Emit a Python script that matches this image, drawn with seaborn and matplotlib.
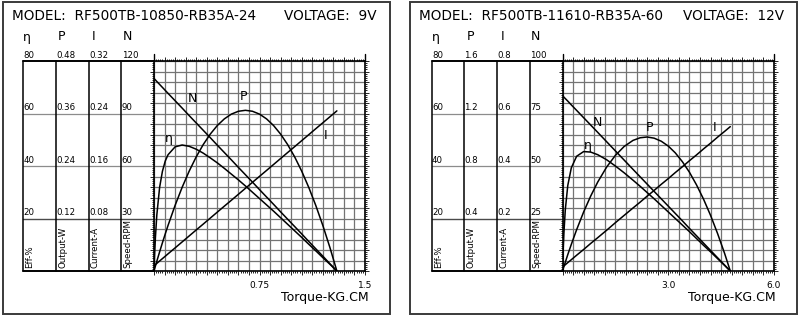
import numpy as np
import pandas as pd
import matplotlib
matplotlib.use("Agg")
import matplotlib.pyplot as plt
import seaborn as sns
from matplotlib.patches import Rectangle
from matplotlib.ticker import MultipleLocator

# ---------------- data ----------------
model_9v = "RF500TB-10850-RB35A-24"
voltage_9v = "9V"
torque_9v = [0, 0.005, 0.01, 0.02, 0.04, 0.06, 0.08, 0.1, 0.15, 0.2, 0.25, 0.3,
             0.35, 0.4, 0.45, 0.5, 0.55, 0.6, 0.65, 0.7, 0.75, 0.8, 0.85, 0.9,
             0.95, 1.0, 1.05, 1.1, 1.15, 1.2, 1.25, 1.3]
eff_9v = [0, 7.0, 12.7, 21.3, 31.9, 38.0, 41.9, 44.3, 47.3, 48.0, 47.5, 46.4,
          44.9, 43.1, 41.2, 39.1, 36.9, 34.7, 32.4, 30.0, 27.6, 25.2, 22.8, 20.3,
          17.8, 15.3, 12.8, 10.2, 7.7, 5.1, 2.6, 0]
power_9v = [0, 0.0056, 0.0112, 0.0223, 0.0438, 0.0647, 0.0848, 0.1043, 0.1500,
            0.1912, 0.2282, 0.2608, 0.2890, 0.3129, 0.3325, 0.3477, 0.3586,
            0.3651, 0.3673, 0.3651, 0.3586, 0.3477, 0.3325, 0.3129, 0.2890,
            0.2608, 0.2282, 0.1912, 0.1499, 0.1043, 0.0543, 0]
current_9v = [0.008, 0.0089, 0.0098, 0.0116, 0.0153, 0.0189, 0.0225, 0.0262,
              0.0352, 0.0443, 0.0534, 0.0625, 0.0715, 0.0806, 0.0897, 0.0988,
              0.1078, 0.1169, 0.1260, 0.1351, 0.1442, 0.1532, 0.1623, 0.1714,
              0.1805, 0.1895, 0.1986, 0.2077, 0.2168, 0.2258, 0.2349, 0.244]
speed_9v = [110, 109.6, 109.2, 108.3, 106.6, 104.9, 103.2, 101.5, 97.3, 93.1,
            88.8, 84.6, 80.4, 76.2, 71.9, 67.7, 63.5, 59.2, 55.0, 50.8, 46.5,
            42.3, 38.1, 33.8, 29.6, 25.4, 21.2, 16.9, 12.7, 8.5, 4.2, 0]
xmax_9v = 1.5
xlabels_9v = ["0.75", "1.5"]
scale_tops_9v = [80, 0.48, 0.32, 120]
scale_labels_9v = [["80", "60", "40", "20"],
                   ["0.48", "0.36", "0.24", "0.12"],
                   ["0.32", "0.24", "0.16", "0.08"],
                   ["120", "90", "60", "30"]]

model_12v = "RF500TB-11610-RB35A-60"
voltage_12v = "12V"
torque_12v = [0, 0.02, 0.04, 0.08, 0.15, 0.25, 0.4, 0.6, 0.8, 1.0, 1.25, 1.5,
              1.75, 2.0, 2.2, 2.4, 2.6, 2.8, 3.0, 3.2, 3.4, 3.6, 3.8, 4.0, 4.2,
              4.4, 4.6, 4.76]
eff_12v = [0, 8.3, 14.5, 23.4, 32.6, 39.3, 43.7, 45.5, 45.3, 44.3, 42.4, 40.0,
           37.4, 34.6, 32.3, 29.9, 27.5, 25.0, 22.5, 20.0, 17.5, 15.0, 12.4,
           9.8, 7.3, 4.7, 2.1, 0]
power_12v = [0, 0.017, 0.034, 0.067, 0.125, 0.203, 0.314, 0.450, 0.571, 0.678,
             0.791, 0.881, 0.949, 0.995, 1.015, 1.021, 1.012, 0.989, 0.952,
             0.900, 0.833, 0.753, 0.657, 0.548, 0.424, 0.285, 0.133, 0]
current_12v = [0.015, 0.017, 0.019, 0.024, 0.032, 0.043, 0.060, 0.082, 0.105,
               0.127, 0.155, 0.184, 0.212, 0.240, 0.262, 0.285, 0.307, 0.330,
               0.352, 0.375, 0.397, 0.420, 0.442, 0.465, 0.487, 0.510, 0.532,
               0.550]
speed_12v = [83.5, 83.1, 82.8, 82.1, 80.9, 79.1, 76.5, 73.0, 69.5, 66.0, 61.6,
             57.2, 52.8, 48.4, 44.9, 41.4, 37.9, 34.4, 30.9, 27.4, 23.9, 20.3,
             16.8, 13.3, 9.8, 6.3, 2.8, 0]
xmax_12v = 6.0
xlabels_12v = ["3.0", "6.0"]
scale_tops_12v = [80, 1.6, 0.8, 100]
scale_labels_12v = [["80", "60", "40", "20"],
                    ["1.6", "1.2", "0.8", "0.4"],
                    ["0.8", "0.6", "0.4", "0.2"],
                    ["100", "75", "50", "25"]]

scale_symbols = ["η", "P", "I", "N"]
scale_names = ["Eff-%", "Output-W", "Current-A", "Speed-RPM"]
# ------------------------------------------------------------------

sns.set_theme(style="white")
plt.rcParams["font.family"] = ["DejaVu Sans"]
plt.rcParams["text.color"] = "black"
plt.rcParams["xtick.color"] = "black"
plt.rcParams["ytick.color"] = "black"

W, H = 800, 317
fig = plt.figure(figsize=(8, 3.17), dpi=100, facecolor="white")

panels = [
    dict(box=(3, 2, 390, 314), plot=(154, 61, 365, 271),
         model=model_9v, volt=voltage_9v,
         df=pd.DataFrame({"torque": torque_9v, "eff": eff_9v, "power": power_9v,
                          "current": current_9v, "speed": speed_9v}),
         xmax=xmax_9v, xlabels=xlabels_9v, tops=scale_tops_9v,
         labels=scale_labels_9v,
         curve_labels=[("N", 0.27, 65.9), ("P", 0.633, 66.3),
                       ("η", 0.107, 50.3), ("I", 1.223, 51.8)]),
    dict(box=(410, 2, 797, 314), plot=(562.5, 61, 774, 271),
         model=model_12v, volt=voltage_12v,
         df=pd.DataFrame({"torque": torque_12v, "eff": eff_12v, "power": power_12v,
                          "current": current_12v, "speed": speed_12v}),
         xmax=xmax_12v, xlabels=xlabels_12v, tops=scale_tops_12v,
         labels=scale_labels_12v,
         curve_labels=[("N", 1.0, 56.4), ("P", 2.48, 54.5),
                       ("η", 0.72, 48.0), ("I", 4.30, 54.5)]),
]

scale_offsets = [-131, -98.5, -65.5, -32.7]
sym_offsets = [4, 6, 5.5, 6]

for p in panels:
    bx0, by0, bx1, by1 = p["box"]
    px0, py0, px1, py1 = p["plot"]
    pw, ph = px1 - px0, py1 - py0
    fig.add_artist(Rectangle((bx0 / W, 1 - by1 / H), (bx1 - bx0) / W, (by1 - by0) / H,
                             transform=fig.transFigure, fill=False,
                             ec="#3a3a3a", lw=1.4))
    ax = fig.add_axes([px0 / W, 1 - py1 / H, pw / W, ph / H])
    df = p["df"]
    xmax = p["xmax"]

    sns.lineplot(data=df, x="torque", y="eff", ax=ax, color="black", lw=1.1,
                 estimator=None, sort=False)
    ax.set_xlim(0, xmax)
    ax.set_ylim(0, p["tops"][0])
    for col, top in zip(["power", "current", "speed"], p["tops"][1:]):
        tw = ax.twinx()
        sns.lineplot(data=df, x="torque", y=col, ax=tw, color="black", lw=1.1,
                     estimator=None, sort=False)
        tw.set_ylim(0, top)
        tw.set_xlim(0, xmax)
        tw.set_axis_off()

    ax.set_xlabel("")
    ax.set_ylabel("")
    ax.set_xticks(np.linspace(0, xmax, 21))
    xt = [""] * 21
    xt[10], xt[20] = p["xlabels"]
    ax.set_xticklabels(xt)
    ax.xaxis.set_minor_locator(MultipleLocator(xmax / 100))
    ax.set_yticks(np.linspace(0, p["tops"][0], 21))
    ax.set_yticklabels([])
    ax.yaxis.set_minor_locator(MultipleLocator(p["tops"][0] / 100))
    ax.grid(True, which="major", color="#747474", lw=0.9)
    ax.set_axisbelow(True)
    ax.tick_params(which="both", direction="out", top=True, right=True,
                   left=True, bottom=True, color="black", width=0.6,
                   labelcolor="black")
    ax.tick_params(which="major", length=3)
    ax.tick_params(which="minor", length=1.6)
    ax.tick_params(axis="x", labelsize=6.5, pad=4)
    for s in ax.spines.values():
        s.set_color("black")
        s.set_linewidth(1.2)
    # spines poke a little above the top edge, as in the reference
    for xf in (0, 1):
        ax.plot([xf, xf], [1, 1 + 7 / ph], transform=ax.transAxes,
                clip_on=False, color="black", lw=1.0)

    # scale block on the left
    x0f = scale_offsets[0] / pw
    for frac, col, lw in [(1, "black", 1.4), (0.75, "#8c8c8c", 0.9),
                          (0.5, "#8c8c8c", 0.9), (0.25, "#4a4a4a", 1.0),
                          (0, "black", 1.4)]:
        ax.plot([x0f, 0], [frac, frac], transform=ax.transAxes, clip_on=False,
                color=col, lw=lw)
    for i, xo in enumerate(scale_offsets):
        xf = xo / pw
        ax.plot([xf, xf], [0, 1], transform=ax.transAxes, clip_on=False,
                color="black", lw=1.1)
        for frac, lab in zip([1, 0.75, 0.5, 0.25], p["labels"][i]):
            ax.text(xf + 0.5 / pw, frac + 1.2 / ph, lab, transform=ax.transAxes,
                    ha="left", va="bottom", fontsize=6.2, color="black")
        ax.text((xo + sym_offsets[i]) / pw, (py1 - 37) / ph, scale_symbols[i],
                transform=ax.transAxes, ha="center", va="center", fontsize=9,
                color="black")
        ax.text((xo + 7) / pw, (py1 - 268) / ph, scale_names[i],
                transform=ax.transAxes, rotation=90, ha="center", va="bottom",
                fontsize=6.2, color="black")

    for txt, cx, cy in p["curve_labels"]:
        ax.text(cx, cy, txt, ha="center", va="center", fontsize=9, color="black")

    fig.text((bx0 + 9) / W, 1 - 15.5 / H, "MODEL:  " + p["model"],
             ha="left", va="center", fontsize=9.8, color="black")
    fig.text((bx1 - 13) / W, 1 - 15.5 / H, "VOLTAGE:  " + p["volt"],
             ha="right", va="center", fontsize=9.8, color="black")
    fig.text((bx1 - 21) / W, 1 - 298 / H, "Torque-KG.CM",
             ha="right", va="center", fontsize=9, color="black")

fig.savefig("out.png", dpi=100, facecolor="white")
